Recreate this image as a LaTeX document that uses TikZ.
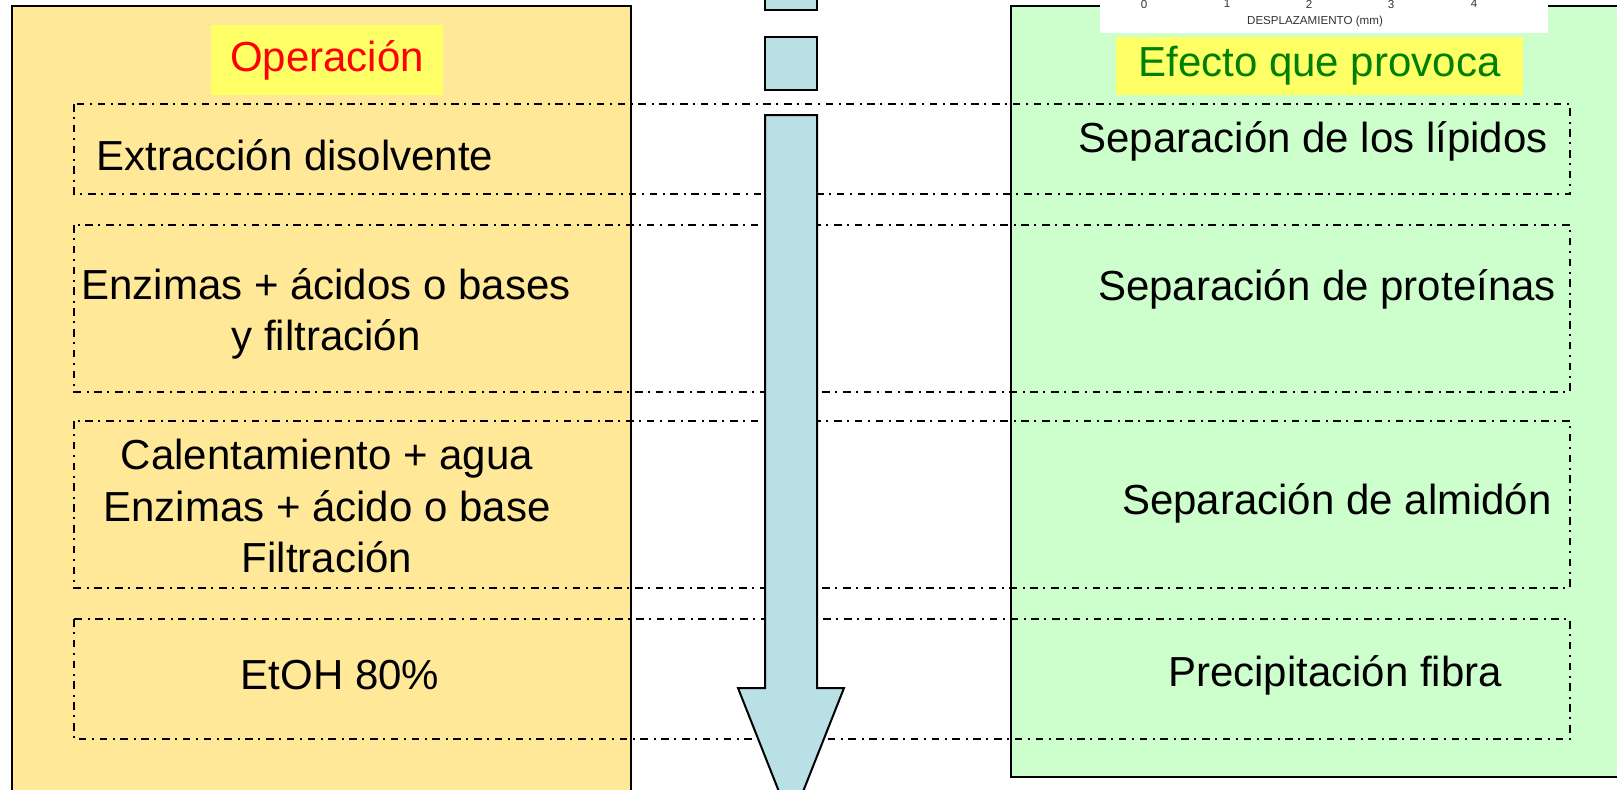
\documentclass[tikz,border=0pt]{standalone}
\usepackage{fontspec}
\setmainfont{Liberation Sans}
\usetikzlibrary{positioning}
\definecolor{OpGold}{HTML}{FFE999}
\definecolor{EfGreen}{HTML}{CCFFCC}
\definecolor{HeadYellow}{HTML}{FFFF66}
\definecolor{FlowBlue}{HTML}{B9E0E4}
\definecolor{HeadGreen}{HTML}{008000}

\begin{document}
\begin{tikzpicture}[x=0.5pt,y=-0.5pt,font=\fontsize{21}{25.8}\selectfont,
  rowbox/.style={draw,line width=0.9pt,dash pattern=on 3.8pt off 2.8pt on 1pt off 2.8pt},
  flowpart/.style={fill=FlowBlue,draw,line width=1pt},
  txt/.style={inner sep=0pt,align=center},
  headbox/.style={fill=HeadYellow,inner sep=0pt},
  ticklbl/.style={font=\fontsize{5.8}{6}\selectfont,text=black!80,inner sep=0pt}]
  \useasboundingbox (0,0) rectangle (1617,789);
  \clip (0,0) rectangle (1617,789);
  % columns
  \filldraw[fill=OpGold,line width=1pt] (12.4,6) rectangle (631,830);
  \filldraw[fill=EfGreen,line width=1pt] (1010.6,6) rectangle (1650,777);
  % dashed rows
  \draw[rowbox] (74,104) rectangle (1570,194);
  \draw[rowbox] (74,225) rectangle (1570,392);
  \draw[rowbox] (74,421) rectangle (1570,588);
  \draw[rowbox] (74,619) rectangle (1570,739);
  % flow arrow
  \draw[flowpart] (765,-10) rectangle (817,10);
  \draw[flowpart] (765,36.5) rectangle (817,89.5);
  \draw[flowpart] (765,115) -- (817,115) -- (817,688) -- (844,688)
    -- (791,822) -- (738,688) -- (765,688) -- cycle;
  % left of the scan at the top
  \fill[white] (1100,-10) rectangle (1548,33);
  \foreach \t/\xt in {0/1144,1/1227,2/1309,3/1391,4/1474}
    \node[ticklbl] (tick\t) at (\xt,4) {\t};
  \node[ticklbl] (axislbl) at (1315,21) {DESPLAZAMIENTO (mm)};
  % headers
  \node[headbox,minimum width=116pt,minimum height=35pt,text=red] (ophead) at (327,60) {Operación};
  \node[headbox,minimum width=203.5pt,minimum height=29pt,text=HeadGreen] (efhead) at (1319.5,66) {Efecto que provoca};
  % operations
  \node[txt] (op1) at (295,155) {Extracción disolvente};
  \node[txt] (op2) at (326,314) {Enzimas + ácidos o bases\\y filtración};
  \node[txt] (op3) at (327,506) {Calentamiento + agua\\Enzimas + ácido o base\\Filtración};
  \node[txt] (op4) at (340,675) {EtOH 80\%};
  % effects
  \node[txt] (ef1) at (1313,141) {Separación de los lípidos};
  \node[txt] (ef2) at (1327,289) {Separación de proteínas};
  \node[txt] (ef3) at (1337,503) {Separación de almidón};
  \node[txt] (ef4) at (1335,675) {Precipitación fibra};
\end{tikzpicture}
\end{document}
